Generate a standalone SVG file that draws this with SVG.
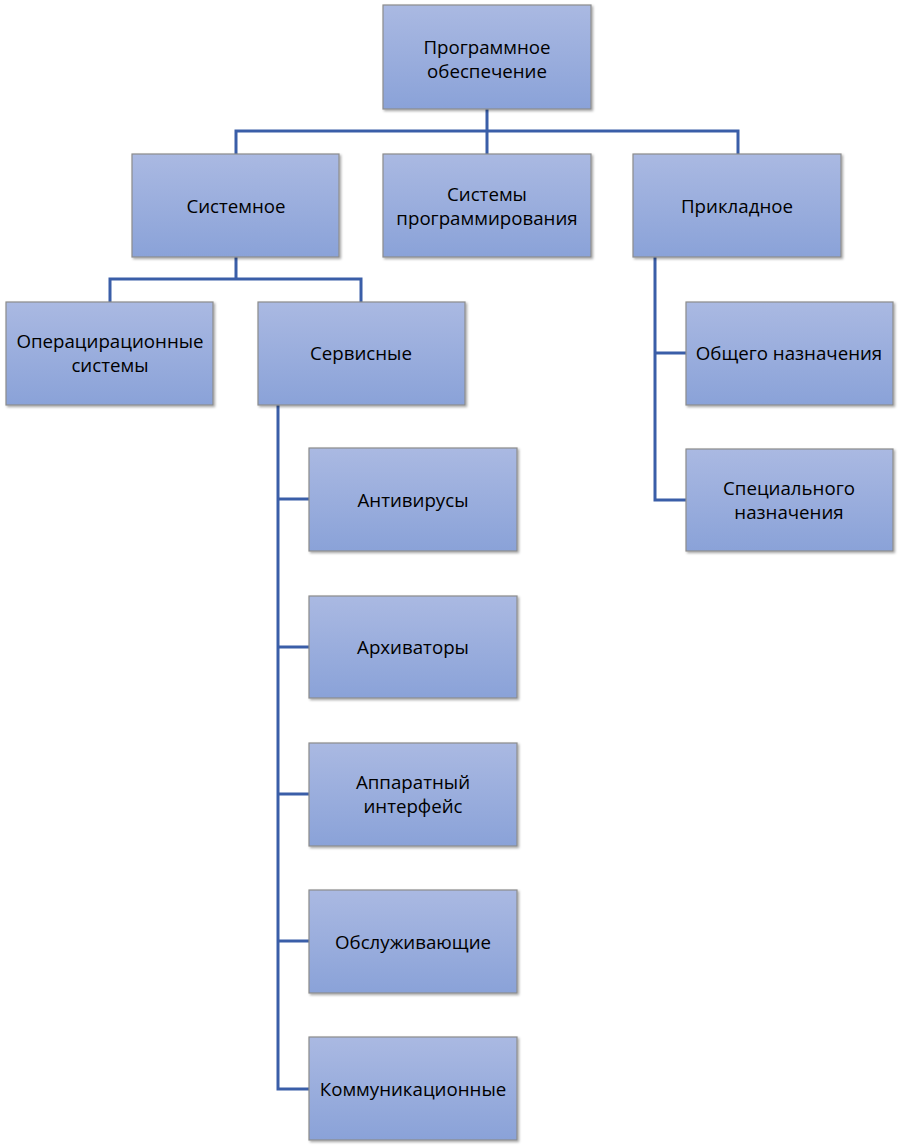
<svg xmlns="http://www.w3.org/2000/svg" width="900" height="1147" viewBox="0 0 900 1147">
<defs>
<linearGradient id="g" x1="0" y1="0" x2="0" y2="1">
<stop offset="0" stop-color="#AAB9E2"/>
<stop offset="1" stop-color="#8AA2D8"/>
</linearGradient>
<filter id="sh" x="-5%" y="-5%" width="115%" height="115%">
<feDropShadow dx="1.5" dy="1.5" stdDeviation="1" flood-color="#000" flood-opacity="0.35"/>
</filter>
</defs>
<style>
.n rect{fill:url(#g);stroke:#8C8C8C;stroke-width:1.2;filter:url(#sh)}
.n text{font-family:"Open Sans","Noto Sans","Liberation Sans",sans-serif;font-size:18.7px;fill:#000;text-anchor:middle}
.c path{fill:none;stroke:#3A5EA8;stroke-width:3}
</style>
<rect width="900" height="1147" fill="#fff"/>
<g class="c" id="connectors">
<path d="M487 109V131M236 154V131H738V154M487 131V154"/>
<path d="M236 257V279M110 302V279H361V302"/>
<path d="M278 405V1089H309M278 499H309M278 647H309M278 794H309M278 941H309"/>
<path d="M655 257V500H686M655 353H686"/>
</g>
<g class="n" id="n-root"><rect x="383" y="5" width="208" height="104"/><text x="487" y="54">Программное</text><text x="487" y="78">обеспечение</text></g>
<g class="n" id="n-sys"><rect x="132" y="154" width="207" height="103"/><text x="236" y="213">Системное</text></g>
<g class="n" id="n-prog"><rect x="383" y="154" width="208" height="103"/><text x="487" y="201">Системы</text><text x="487" y="225">программирования</text></g>
<g class="n" id="n-app"><rect x="633" y="154" width="208" height="103"/><text x="737" y="213">Прикладное</text></g>
<g class="n" id="n-os"><rect x="6" y="302" width="207" height="103"/><text x="110" y="348">Операцирационные</text><text x="110" y="372">системы</text></g>
<g class="n" id="n-serv"><rect x="258" y="302" width="207" height="103"/><text x="361" y="360">Сервисные</text></g>
<g class="n" id="n-gen"><rect x="686" y="302" width="207" height="103"/><text x="789" y="360">Общего назначения</text></g>
<g class="n" id="n-spec"><rect x="686" y="449" width="207" height="102"/><text x="789" y="495">Специального</text><text x="789" y="519">назначения</text></g>
<g class="n" id="n-av"><rect x="309" y="448" width="208" height="103"/><text x="413" y="507">Антивирусы</text></g>
<g class="n" id="n-arch"><rect x="309" y="596" width="208" height="102"/><text x="413" y="654">Архиваторы</text></g>
<g class="n" id="n-hw"><rect x="309" y="743" width="208" height="103"/><text x="413" y="789">Аппаратный</text><text x="413" y="813">интерфейс</text></g>
<g class="n" id="n-serv2"><rect x="309" y="890" width="208" height="103"/><text x="413" y="949">Обслуживающие</text></g>
<g class="n" id="n-comm"><rect x="309" y="1037" width="208" height="103"/><text x="413" y="1096">Коммуникационные</text></g>
</svg>
